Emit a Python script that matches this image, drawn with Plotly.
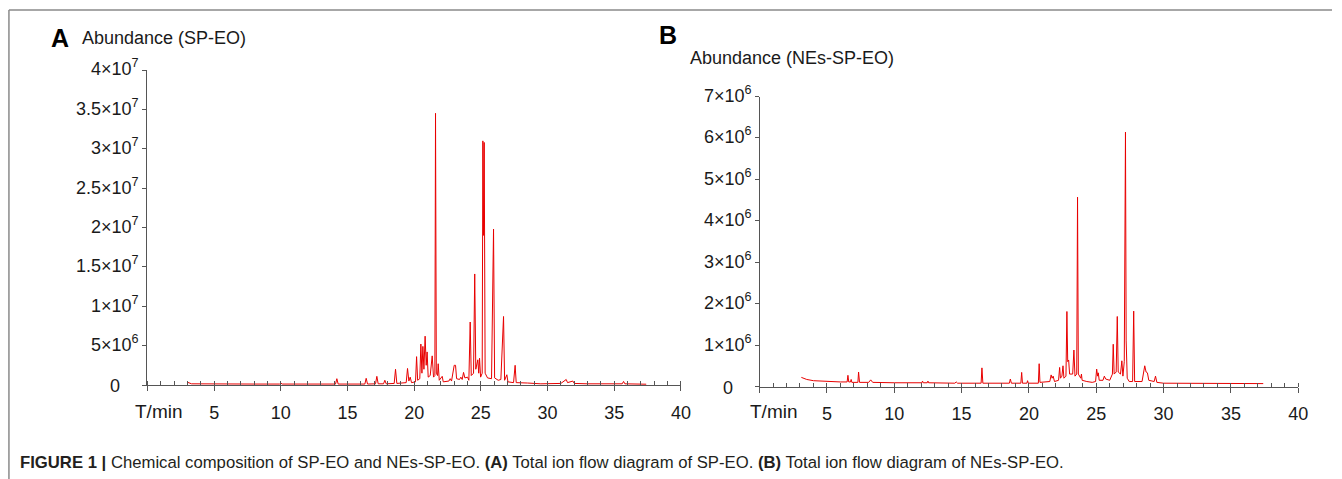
import plotly.graph_objects as go

W, H = 1342, 479

# ---------------- data (abundance in units of 1e6) ----------------
time_a = [3.0, 3.3, 8.0, 9.9, 10.0, 10.1, 14.1, 14.2, 14.3, 16.3, 16.4, 16.5, 17.1, 17.2, 17.3,
          17.7, 17.8, 17.9, 18.5, 18.6, 18.7, 19.4, 19.5, 19.6, 19.7, 19.8, 20.1, 20.18, 20.26,
          20.42, 20.5, 20.58, 20.65, 20.73, 20.82, 20.9, 20.97, 21.05, 21.2, 21.35, 21.45, 21.55,
          21.6, 21.66, 21.75, 21.8, 21.88, 22.1, 22.18, 22.6, 22.7, 22.8, 23.0, 23.1, 23.18, 23.4,
          23.5, 23.6, 23.7, 23.8, 24.0, 24.1, 24.2, 24.28, 24.45, 24.54, 24.62, 24.77, 24.84, 24.9,
          24.98, 25.1, 25.15, 25.2, 25.25, 25.32, 25.5, 25.8, 25.95, 26.03, 26.3, 26.5, 26.7, 26.78,
          26.95, 27.03, 27.45, 27.57, 27.65, 28.0, 28.5, 29.5, 31.0, 31.4, 31.5, 31.9, 32.0, 33.0,
          35.6, 35.7, 35.8, 37.4]
abund_a = [0.35, 0.15, 0.12, 0.12, 0.25, 0.12, 0.12, 0.8, 0.12, 0.12, 0.85, 0.12, 0.15, 1.1, 0.15,
           0.15, 0.6, 0.15, 0.2, 2.0, 0.2, 0.3, 2.1, 0.5, 1.0, 0.3, 0.4, 3.6, 0.6,
           0.8, 5.2, 1.5, 4.9, 2.0, 6.2, 2.5, 4.2, 1.0, 1.2, 3.7, 1.0, 1.2,
           34.5, 1.5, 1.2, 2.7, 0.6, 1.1, 0.4, 0.5, 0.8, 0.5, 2.5, 2.5, 0.8, 0.7,
           1.0, 0.7, 1.6, 0.9, 1.0, 0.6, 8.0, 1.2, 1.5, 14.1, 2.0, 3.2, 1.5, 3.4,
           1.0, 1.5, 31.0, 19.0, 30.8, 1.5, 0.9, 0.8, 19.8, 0.9, 0.6, 0.7, 8.7, 0.6,
           1.3, 0.4, 0.3, 2.5, 0.3, 0.3, 0.25, 0.15, 0.2, 0.7, 0.3, 0.5, 0.2, 0.15,
           0.15, 0.45, 0.15, 0.1]

time_b = [3.1, 3.5, 4.0, 5.0, 6.0, 6.5, 6.56, 6.62, 6.75, 6.8, 6.85, 7.3, 7.35, 7.42, 8.1, 8.25,
          8.4, 10.0, 12.05, 12.1, 12.15, 12.45, 12.5, 12.55, 14.5, 14.6, 14.7, 16.45, 16.51, 16.58,
          18.55, 18.62, 18.7, 19.4, 19.46, 19.52, 19.85, 19.9, 19.95, 20.7, 20.76, 20.82, 21.55,
          21.65, 21.72, 21.8, 21.9, 22.2, 22.28, 22.34, 22.45, 22.53, 22.6, 22.75, 22.82, 22.88,
          22.95, 23.02, 23.25, 23.34, 23.42, 23.55, 23.61, 23.67, 23.85, 23.9, 23.95, 24.3, 24.7,
          24.95, 25.03, 25.1, 25.15, 25.22, 25.5, 25.6, 25.7, 26.0, 26.2, 26.26, 26.33, 26.48,
          26.56, 26.63, 26.8, 26.9, 26.98, 27.08, 27.1, 27.17, 27.22, 27.3, 27.45, 27.7, 27.78,
          27.85, 28.4, 28.6, 28.7, 28.8, 28.9, 29.3, 29.4, 29.5, 30.0, 33.0, 35.0, 37.4]
abund_b = [0.22, 0.17, 0.14, 0.12, 0.11, 0.11, 0.27, 0.11, 0.11, 0.17, 0.1, 0.1, 0.35, 0.1, 0.1, 0.16,
           0.1, 0.09, 0.09, 0.13, 0.09, 0.09, 0.13, 0.09, 0.08, 0.11, 0.08, 0.08, 0.45, 0.08,
           0.08, 0.18, 0.08, 0.08, 0.34, 0.08, 0.08, 0.14, 0.08, 0.08, 0.55, 0.1, 0.12,
           0.28, 0.2, 0.25, 0.12, 0.15, 0.46, 0.2, 0.25, 0.5, 0.2, 0.25, 1.81, 0.6,
           0.64, 0.3, 0.3, 0.88, 0.25, 0.3, 4.57, 0.3, 0.2, 0.3, 0.15, 0.12, 0.1,
           0.12, 0.42, 0.25, 0.33, 0.15, 0.15, 0.25, 0.18, 0.15, 0.3, 1.02, 0.3, 0.35,
           1.69, 0.35, 0.3, 0.62, 0.25, 0.6, 2.6, 6.14, 1.1, 0.2, 0.12, 0.12, 1.82,
           0.12, 0.12, 0.5, 0.35, 0.33, 0.15, 0.12, 0.25, 0.1, 0.08, 0.08, 0.07, 0.07]

x_tickvals = [0, 5, 10, 15, 20, 25, 30, 35, 40]
x_ticktext = ["", "5", "10", "15", "20", "25", "30", "35", "40"]

y_tickvals_a = [0, 5, 10, 15, 20, 25, 30, 35, 40]
y_ticktext_a = ["0", "5×10<sup>6</sup>", "1×10<sup>7</sup>", "1.5×10<sup>7</sup>", "2×10<sup>7</sup>",
                "2.5×10<sup>7</sup>", "3×10<sup>7</sup>", "3.5×10<sup>7</sup>", "4×10<sup>7</sup>"]
y_tickvals_b = [0, 1, 2, 3, 4, 5, 6, 7]
y_ticktext_b = ["0", "1×10<sup>6</sup>", "2×10<sup>6</sup>", "3×10<sup>6</sup>", "4×10<sup>6</sup>",
                "5×10<sup>6</sup>", "6×10<sup>6</sup>", "7×10<sup>6</sup>"]

# ---------------- figure ----------------
FONT = "Liberation Sans, Arial, sans-serif"
TXT = "#1a1a1a"
AX = "#555555"
RED = "rgb(232,0,0)"


def px(x):
    return x / W


def py(y):
    return 1 - y / H


fig = go.Figure()
fig.add_trace(go.Scatter(x=time_a, y=abund_a, mode="lines", line=dict(color=RED, width=1),
                         xaxis="x", yaxis="y", showlegend=False, hoverinfo="skip"))
fig.add_trace(go.Scatter(x=time_b, y=abund_b, mode="lines", line=dict(color=RED, width=1),
                         xaxis="x2", yaxis="y2", showlegend=False, hoverinfo="skip"))

xcommon = dict(range=[0, 40], showgrid=False, zeroline=False, showline=True, linecolor=AX,
               linewidth=1, ticks="outside", ticklen=5, tickcolor=AX, tickwidth=1,
               tickmode="array", tickvals=x_tickvals, ticktext=x_ticktext,
               tickfont=dict(family=FONT, size=18, color=TXT), ticklabelstandoff=6,
               minor=dict(ticks="inside", dtick=1, ticklen=4, tickcolor=AX, tickwidth=1),
               fixedrange=True)
ycommon = dict(showgrid=False, zeroline=False, showline=True, linecolor=AX, linewidth=1,
               ticks="outside", ticklen=4, tickcolor=AX, tickwidth=1, showticklabels=False,
               tickmode="array", fixedrange=True)

fig.update_layout(
    width=W, height=H, margin=dict(l=0, r=0, t=0, b=0),
    paper_bgcolor="white", plot_bgcolor="white",
    xaxis=dict(domain=[px(148.6), px(686)], anchor="y", **xcommon),
    yaxis=dict(domain=[py(385), py(70)], range=[0, 40], anchor="x", tickvals=y_tickvals_a, **ycommon),
    xaxis2=dict(domain=[px(765.3), px(1308)], anchor="y2", **xcommon),
    yaxis2=dict(domain=[py(386.5), py(96.5)], range=[0, 7], anchor="x2", tickvals=y_tickvals_b, **ycommon),
)

ann = []
# y tick labels
for xref, yref, vals, texts in (("x domain", "y", y_tickvals_a, y_ticktext_a),
                                ("x2 domain", "y2", y_tickvals_b, y_ticktext_b)):
    for v, t in zip(vals, texts):
        if v == 0:
            ann.append(dict(xref=xref, yref=yref, x=0, y=v, text=t, showarrow=False,
                            xanchor="center", yanchor="middle", xshift=-32, yshift=-1,
                            font=dict(family=FONT, size=18, color=TXT)))
        else:
            ann.append(dict(xref=xref, yref=yref, x=0, y=v, text=t, showarrow=False,
                            xanchor="right", yanchor="middle", xshift=-6, yshift=2,
                            font=dict(family=FONT, size=18, color=TXT)))

# axis titles and panel letters
ann += [
    dict(xref="paper", yref="paper", x=px(160), y=py(411), text="T/min", showarrow=False,
         xanchor="center", yanchor="middle", font=dict(family=FONT, size=19, color=TXT)),
    dict(xref="paper", yref="paper", x=px(780), y=py(411), text="T/min", showarrow=False,
         xanchor="center", yanchor="middle", font=dict(family=FONT, size=19, color=TXT)),
    dict(xref="paper", yref="paper", x=px(49), y=py(38), text="<b>A</b>", showarrow=False,
         xanchor="left", yanchor="middle", font=dict(family=FONT, size=25, color="#000")),
    dict(xref="paper", yref="paper", x=px(81), y=py(38), text="Abundance (SP-EO)", showarrow=False,
         xanchor="left", yanchor="middle", font=dict(family=FONT, size=18, color=TXT)),
    dict(xref="paper", yref="paper", x=px(662), y=py(35), text="<b>B</b>", showarrow=False,
         xanchor="left", yanchor="middle", font=dict(family=FONT, size=25, color="#000")),
    dict(xref="paper", yref="paper", x=px(693), y=py(58), text="Abundance (NEs-SP-EO)", showarrow=False,
         xanchor="left", yanchor="middle", font=dict(family=FONT, size=18, color=TXT)),
    dict(xref="paper", yref="paper", x=px(18), y=py(462),
         text="<b>FIGURE 1 |</b> Chemical composition of SP-EO and NEs-SP-EO. <b>(A)</b> Total ion flow "
              "diagram of SP-EO. <b>(B)</b> Total ion flow diagram of NEs-SP-EO.",
         showarrow=False, xanchor="left", yanchor="middle",
         font=dict(family=FONT, size=16.7, color="#231f20")),
]
fig.update_layout(annotations=ann)

# outer frame (top and left edges)
fig.update_layout(shapes=[
    dict(type="line", xref="paper", yref="paper", x0=px(9), x1=1, y0=py(10), y1=py(10),
         line=dict(color="#8a8a8a", width=1.5)),
    dict(type="line", xref="paper", yref="paper", x0=px(9), x1=px(9), y0=py(10), y1=0,
         line=dict(color="#8a8a8a", width=1.5)),
])

fig.write_html("out.html", config={"displayModeBar": False},
               post_script="document.body.style.margin='0';document.body.style.padding='0';"
                           "document.body.style.overflow='hidden';")
